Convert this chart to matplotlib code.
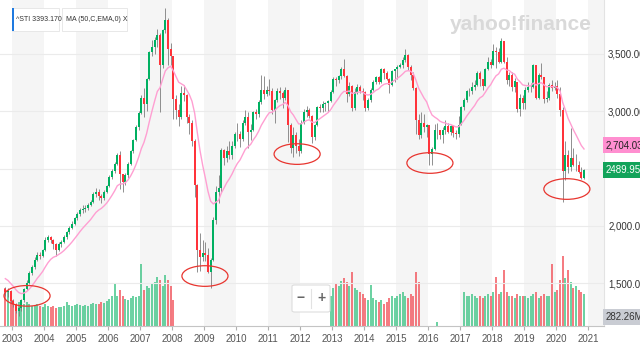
import numpy as np
import matplotlib
matplotlib.use("Agg")
import matplotlib.pyplot as plt
import matplotlib.transforms as mtransforms
from matplotlib.patches import Ellipse, Rectangle, FancyBboxPatch

plt.rcParams['font.family'] = ['Liberation Sans', 'DejaVu Sans']

# monthly candles, first one is Oct 2002
start_year, start_month = 2002, 10
first_open = 1450

close = [
    1420, 1430, 1341,                                                  # 2002
    1320, 1260, 1280, 1350, 1450, 1500, 1590, 1640, 1700, 1750, 1740, 1790,  # 2003
    1880, 1900, 1880, 1840, 1790, 1840, 1860, 1900, 1950, 1980, 2020, 2066,  # 2004
    2100, 2140, 2150, 2160, 2180, 2210, 2280, 2300, 2260, 2240, 2300, 2347,  # 2005
    2430, 2480, 2540, 2620, 2450, 2380, 2440, 2540, 2650, 2750, 2860, 2986,  # 2006
    3120, 3060, 3280, 3520, 3560, 3620, 3670, 3400, 3710, 3800, 3540, 3480,  # 2007
    3110, 3010, 2950, 3160, 3140, 2950, 2900, 2740, 2360, 1790, 1730, 1760,  # 2008
    1750, 1600, 1700, 2050, 2300, 2330, 2660, 2590, 2650, 2620, 2700, 2800,  # 2009
    2800, 2760, 2900, 2950, 2820, 2840, 2990, 2980, 3080, 3190, 3150, 3190,  # 2010
    3180, 3010, 3100, 3180, 3160, 3120, 3190, 2880, 2680, 2790, 2700, 2650,  # 2011
    2900, 2990, 3010, 2960, 2780, 2880, 3040, 3030, 3060, 3070, 3090, 3170,  # 2012
    3280, 3270, 3310, 3370, 3310, 3150, 3220, 3030, 3170, 3210, 3180, 3170,  # 2013
    3030, 3100, 3190, 3260, 3300, 3260, 3370, 3330, 3280, 3230, 3350, 3365,  # 2014
    3390, 3400, 3450, 3490, 3390, 3320, 3200, 2920, 2790, 2900, 2860, 2880,  # 2015
    2630, 2670, 2840, 2840, 2790, 2840, 2870, 2820, 2870, 2810, 2800, 2880,  # 2016
    3040, 3100, 3180, 3180, 3210, 3230, 3330, 3280, 3220, 3370, 3430, 3400,  # 2017
    3530, 3520, 3430, 3610, 3430, 3270, 3320, 3210, 3260, 3020, 3120, 3070,  # 2018
    3190, 3210, 3210, 3400, 3120, 3320, 3300, 3110, 3120, 3230, 3200, 3220,  # 2019
    3150, 3010, 2480, 2620, 2510, 2590, 2530, 2530, 2470, 2420, 2489.95,     # 2020
]

high = [
    1470, 1460, 1440,
    1360, 1330, 1300, 1360, 1460, 1530, 1610, 1660, 1730, 1770, 1770, 1800,
    1900, 1920, 1910, 1890, 1850, 1860, 1880, 1920, 1960, 2000, 2040, 2080,
    2120, 2160, 2180, 2180, 2200, 2230, 2300, 2330, 2320, 2280, 2310, 2360,
    2440, 2500, 2560, 2640, 2650, 2450, 2460, 2560, 2660, 2760, 2880, 3000,
    3140, 3200, 3290, 3530, 3620, 3650, 3720, 3680, 3720, 3900, 3810, 3600,
    3480, 3140, 3060, 3220, 3230, 3150, 2980, 2920, 2760, 2370, 1940, 1880,
    1860, 1810, 1720, 2080, 2350, 2440, 2680, 2670, 2700, 2740, 2740, 2820,
    2900, 2830, 2920, 3010, 2990, 2890, 3000, 3020, 3100, 3320, 3310, 3220,
    3280, 3200, 3110, 3200, 3210, 3180, 3210, 3190, 2900, 2860, 2820, 2760,
    2920, 3020, 3050, 3030, 2970, 2890, 3050, 3060, 3090, 3080, 3100, 3190,
    3300, 3300, 3320, 3390, 3460, 3320, 3260, 3230, 3200, 3240, 3230, 3200,
    3180, 3120, 3200, 3270, 3310, 3310, 3380, 3380, 3350, 3290, 3360, 3370,
    3400, 3420, 3470, 3540, 3500, 3400, 3340, 3210, 2980, 2990, 2980, 2890,
    2880, 2690, 2890, 2900, 2840, 2860, 2920, 2900, 2880, 2880, 2840, 2960,
    3050, 3120, 3190, 3200, 3260, 3270, 3350, 3350, 3280, 3380, 3470, 3460,
    3590, 3560, 3550, 3640, 3610, 3470, 3340, 3340, 3290, 3250, 3150, 3140,
    3210, 3260, 3250, 3410, 3400, 3330, 3420, 3300, 3180, 3250, 3270, 3260,
    3270, 3210, 3040, 2740, 2660, 2850, 2680, 2630, 2570, 2510, 2500,
]

low = [
    1390, 1380, 1330,
    1290, 1240, 1210, 1260, 1340, 1440, 1490, 1570, 1620, 1690, 1710, 1730,
    1780, 1860, 1850, 1800, 1740, 1780, 1820, 1850, 1890, 1930, 1970, 2010,
    2050, 2090, 2110, 2120, 2140, 2170, 2200, 2250, 2230, 2200, 2230, 2290,
    2340, 2410, 2460, 2530, 2320, 2300, 2360, 2420, 2530, 2640, 2740, 2840,
    2980, 2950, 3000, 3270, 3480, 3500, 3560, 2990, 3380, 3680, 3400, 3400,
    2930, 2930, 2870, 2930, 3090, 2900, 2800, 2700, 2250, 1600, 1610, 1690,
    1690, 1590, 1460, 1690, 2020, 2200, 2300, 2530, 2560, 2580, 2580, 2680,
    2740, 2690, 2740, 2880, 2680, 2750, 2830, 2930, 2950, 3060, 3110, 3130,
    3140, 2980, 2900, 3080, 3110, 3030, 3100, 2730, 2640, 2600, 2640, 2610,
    2640, 2890, 2950, 2940, 2720, 2750, 2870, 2990, 2990, 3000, 2990, 3080,
    3160, 3220, 3250, 3280, 3300, 3080, 3130, 3000, 3010, 3150, 3160, 3100,
    3000, 3010, 3080, 3180, 3240, 3240, 3250, 3280, 3270, 3160, 3220, 3260,
    3280, 3380, 3380, 3430, 3360, 3270, 3190, 2800, 2760, 2770, 2820, 2780,
    2530, 2530, 2660, 2760, 2760, 2720, 2800, 2810, 2790, 2780, 2760, 2780,
    2880, 3010, 3080, 3130, 3150, 3190, 3220, 3220, 3190, 3220, 3360, 3380,
    3400, 3380, 3420, 3420, 3420, 3240, 3220, 3180, 3170, 2990, 2960, 3020,
    3020, 3170, 3170, 3200, 3110, 3110, 3280, 3070, 3080, 3100, 3180, 3190,
    3120, 2960, 2210, 2400, 2460, 2480, 2520, 2480, 2460, 2410, 2410,
]

nan = float('nan')
# volume in millions, nan where the chart shows no bar
volume = [
    334, 299, 264,
    229, 194, 211, 176, 194, 211, 194, 176, 185, 194, 176, 167,
    194, 176, 167, 176, 158, 167, 167, 176, 211, 185, 176, 185,
    194, 185, 176, 185, 176, 194, 202, 194, 194, 211, 202, 220,
    238, 264, 370, 264, 317, 264, 238, 229, 246, 264, 255, 264,
    546, 317, 352, 334, 370, 387, 431, 405, 352, 449, 405, 352,
    229, nan, nan, nan, nan, nan, nan, nan, nan, nan, nan, nan,
    nan, nan, nan, nan, nan, nan, nan, nan, nan, nan, nan, nan,
    nan, nan, nan, nan, nan, nan, nan, nan, nan, nan, nan, nan,
    nan, nan, nan, nan, nan, nan, nan, nan, nan, nan, nan, nan,
    nan, nan, nan, nan, nan, nan, nan, nan, nan, nan, nan, 264,
    334, 370, 352, 396, 422, 387, 352, 475, 334, 317, 299, 282,
    246, 229, 361, 246, 229, 211, 229, 194, 211, 246, 264, 246,
    264, 282, 299, 264, 246, 282, 264, 475, 387, nan, nan, nan,
    nan, nan, nan, 35, nan, nan, nan, nan, nan, nan, nan, nan,
    nan, 299, 264, 264, 282, 264, 246, 264, 246, 264, 282, 264,
    299, 431, 282, 299, 493, 299, 264, 264, 246, 282, 264, 264,
    264, 246, 264, 282, 299, 246, 264, 282, 264, 264, 546, 299,
    317, 405, 616, 422, 493, 387, 334, 352, 317, 299, 282,
]

ma_seed = 1560
ma_span = 13

years = list(range(2003, 2022))
price_ticks = [1500, 2000, 2500, 3000, 3500]
# 2,500 sits under the last-price tag in the original, so it shows no text
price_labels = ["1,500.000", "2,000.000", "", "3,000.000", "3,500.000"]
last_ma_text = "2,704.032"
last_close_text = "2489.950"
last_volume_text = "282.26M"
header_text = "^STI 3393.170"
ma_text = "MA (50,C,EMA,0) X"

# red circles drawn on the chart (year, price)
circle_centers = [(2003.47, 1390), (2009.03, 1563), (2011.91, 2627), (2016.06, 2549), (2020.34, 2322)]

GREEN = '#00b061'
RED = '#ff333a'

n = len(close)
t = np.array([start_year + (start_month - 1 + i + 0.5) / 12 for i in range(n)])
c = np.array(close, dtype=float)
o = np.concatenate([[first_open], c[:-1]])
hi = np.array(high, dtype=float)
lo = np.array(low, dtype=float)
vol = np.array(volume, dtype=float)
up = c >= o

alpha = 2 / (ma_span + 1)
ma = []
prev = ma_seed
for v in c:
    prev = prev + alpha * (v - prev)
    ma.append(prev)

fig = plt.figure(figsize=(6.4, 3.57), dpi=100)
fig.patch.set_facecolor('white')
vax = fig.add_axes([0, 31 / 357, 604 / 640, 326 / 357])
ax = fig.add_axes([0, 31 / 357, 604 / 640, 326 / 357], sharex=vax)
ax.patch.set_visible(False)

x0, x1 = 2002.625, 2021.5
vax.set_xlim(x0, x1)
vax.set_ylim(0, 2870)
ax.set_ylim(1127, 3971)

# year bands + volume
for y in years:
    if y % 2 == 1:
        vax.axvspan(y, y + 1, color='#f5f5f5', lw=0, zorder=0)
ok = ~np.isnan(vol)
vcol = np.where(up, '#2fbf7d', '#f2454d')
vax.bar(t[ok], vol[ok], width=0.8 / 12, color=vcol[ok], alpha=0.7, lw=0, zorder=1)
vax.set_yticks([])
for s in vax.spines.values():
    s.set_visible(False)
vax.tick_params(axis='x', which='both', length=0, labelbottom=False)

# price
ax.set_yticks(price_ticks)
ax.set_yticklabels(price_labels)
ax.yaxis.tick_right()
ax.tick_params(axis='y', length=0, pad=3, labelsize=7, labelcolor='#333333')
ax.grid(axis='y', color='#ebebeb', lw=0.8, zorder=0)
ax.set_xticks(years)
ax.set_xticklabels([str(y) for y in years])
ax.tick_params(axis='x', length=3, color='#b0b0b0', pad=3, labelsize=7, labelcolor='#555555')
for s in ['left', 'top']:
    ax.spines[s].set_visible(False)
ax.spines['bottom'].set_color('#c4c4c4')
ax.spines['right'].set_color('#e3e3e3')

ax.vlines(t, lo, hi, color='#7d7d7d', lw=0.6, zorder=2)
body_col = np.where(up, GREEN, RED)
ax.bar(t, np.abs(c - o), bottom=np.minimum(c, o), width=0.8 / 12, color=body_col, lw=0, zorder=3)
ax.plot(t, ma, color='#ff9fd2', lw=1.0, zorder=4)

for (cx, cy) in circle_centers:
    ax.add_patch(Ellipse((cx, cy), width=1.44, height=180, fill=False, edgecolor='#e8352f', lw=0.9, zorder=5))

# right side value tags
tr = mtransforms.blended_transform_factory(ax.transAxes, ax.transData)
ax.text(1.003, 2704.032, last_ma_text, transform=tr, va='center', ha='left', fontsize=7, color='#222222',
        clip_on=False, zorder=6,
        bbox=dict(boxstyle='square,pad=0.3', fc='#ff8fd0', ec='none'))
ax.text(1.003, 2489.95, last_close_text, transform=tr, va='center', ha='left', fontsize=7, color='white',
        clip_on=False, zorder=6,
        bbox=dict(boxstyle='square,pad=0.3', fc='#12a35a', ec='none'))
ax.text(1.003, 0.028, last_volume_text, transform=ax.transAxes, va='center', ha='left', fontsize=7,
        color='#333333', clip_on=False, zorder=6,
        bbox=dict(boxstyle='square,pad=0.3', fc='#c9ccd3', ec='none'))


def px(x, y):
    return x / 640, 1 - y / 357


# legend chips top-left
for (bx0, bx1, txt) in [(12, 59, header_text), (62, 127, ma_text)]:
    fx, fy = px(bx0, 31)
    fig.patches.append(FancyBboxPatch((fx, fy), (bx1 - bx0) / 640, 23 / 357,
                                      boxstyle='square,pad=0', transform=fig.transFigure,
                                      fc='white', ec='#e4e4e4', lw=0.6, zorder=10))
    tx, ty = px(bx0 + 3.5, 19.5)
    fig.text(tx, ty, txt, fontsize=5.0, color='#333333', va='center', ha='left', zorder=11)
fx, fy = px(12, 31)
fig.patches.append(Rectangle((fx, fy), 2 / 640, 23 / 357, transform=fig.transFigure,
                             fc='#1f7ae0', ec='none', zorder=12))

# watermark
wx, wy = px(521, 24)
fig.text(wx, wy, "yahoo!finance", fontsize=15, weight='bold', color='#d9d9d9',
         ha='center', va='center', zorder=1)

# zoom buttons
fx, fy = px(292, 312)
fig.patches.append(FancyBboxPatch((fx, fy), 38 / 640, 27 / 357, boxstyle='round,pad=0,rounding_size=0.004',
                                  transform=fig.transFigure, fc='white', ec='#dddddd', lw=0.8, zorder=10))
lx, ly0 = px(311, 289)
_, ly1 = px(311, 308)
fig.add_artist(plt.Line2D([lx, lx], [ly0, ly1], transform=fig.transFigure, color='#e2e2e2', lw=0.8, zorder=11))
mx, my = px(301, 298)
fig.text(mx, my, "−", fontsize=10, weight='bold', color='#666666', ha='center', va='center', zorder=12)
mx, my = px(321, 298)
fig.text(mx, my, "+", fontsize=10, weight='bold', color='#666666', ha='center', va='center', zorder=12)

fig.savefig('out.png', dpi=100, facecolor='white')
